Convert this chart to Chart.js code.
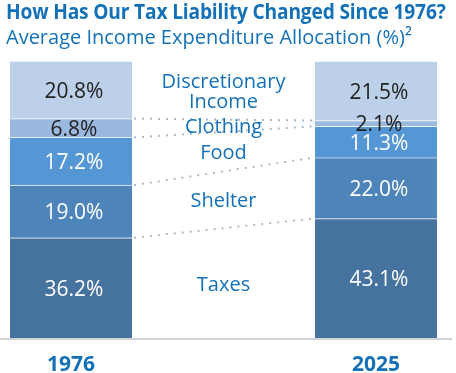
<!DOCTYPE html>
<html>
<head>
<meta charset="utf-8">
<script src="https://cdn.jsdelivr.net/npm/chart.js@4.4.0/dist/chart.umd.min.js"></script>
<style>
  body { margin: 0; background: #fff; }
  #wrap { position: relative; width: 456px; height: 373px; overflow: hidden; }
  .t1 { position: absolute; left: 6px; top: -1px; white-space: nowrap; transform-origin: 0 0;
        font: bold 22px/22px 'Open Sans', sans-serif; color: #1471b8; letter-spacing: -0.2px; }
  .t2 { position: absolute; left: 6px; top: 27px; white-space: nowrap;
        font: 20px/20px 'Open Sans', sans-serif; color: #1471b8; }
</style>
</head>
<body>
<div id="wrap">
  <canvas id="chart" width="456" height="373"></canvas>
  <div class="t1" id="t1">How Has Our Tax Liability Changed Since 1976?</div>
  <div class="t2">Average Income Expenditure Allocation (%)²</div>
</div>
<script>
const years = ['1976', '2025'];
const categories = [['Taxes'], ['Shelter'], ['Food'], ['Clothing'], ['Discretionary', 'Income']];
const taxes = [36.2, 43.1];
const shelter = [19.0, 22.0];
const food = [17.2, 11.3];
const clothing = [6.8, 2.1];
const discretionary = [20.8, 21.5];

const blue = '#1471b8';
const fills = ['#45729e', '#4d84ba', '#5596d4', '#9ab9df', '#bcd0ea'];
const valueColors = ['#fff', '#fff', '#fff', '#222', '#222'];

// squeeze the bold title to the width of the original condensed face
const t1 = document.getElementById('t1');
t1.style.transform = 'scaleX(' + (440 / t1.offsetWidth) + ')';

// dotted connectors between the tops of the lower four segments
const connectors = {
    id: 'connectors',
    afterDatasetsDraw(chart) {
        const ctx = chart.ctx;
        ctx.save();
        ctx.strokeStyle = '#a6b9cd';
        ctx.lineWidth = 2;
        ctx.setLineDash([2, 6]);
        for (let i = 0; i < 4; i++) {
            const bars = chart.getDatasetMeta(i).data;
            const a = bars[0], b = bars[1];
            ctx.beginPath();
            ctx.moveTo(a.x + a.width / 2 + 2, a.y);
            ctx.lineTo(b.x - b.width / 2 - 2, b.y);
            ctx.stroke();
        }
        ctx.restore();
    }
};

// base line, year labels, value labels in the bars, category names in the gap
const labels = {
    id: 'labels',
    afterDraw(chart) {
        const ctx = chart.ctx;
        const y0 = chart.scales.y.getPixelForValue(0);
        ctx.save();
        ctx.strokeStyle = '#d3d3d3';
        ctx.lineWidth = 2;
        ctx.beginPath();
        ctx.moveTo(0, y0 + 1);
        ctx.lineTo(452, y0 + 1);
        ctx.stroke();

        ctx.textAlign = 'center';
        ctx.textBaseline = 'middle';
        const base = chart.getDatasetMeta(0).data;
        ctx.font = 'bold 21px "Open Sans"';
        ctx.fillStyle = blue;
        chart.data.labels.forEach((yr, j) => {
            ctx.fillText(yr, base[j].x, y0 + 27);
        });

        chart.data.datasets.forEach((ds, i) => {
            const bars = chart.getDatasetMeta(i).data;
            ctx.font = '500 21px "Open Sans"';
            ctx.fillStyle = valueColors[i];
            bars.forEach((bar, j) => {
                const mid = (bar.y + bar.base) / 2;
                ctx.fillText(ds.data[j].toFixed(1) + '%', bar.x + 3, mid + 2);
            });
            const a = bars[0], b = bars[1];
            const cx = (a.x + a.width / 2 + b.x - b.width / 2) / 2;
            const cy = ((a.y + a.base) / 2 + (b.y + b.base) / 2) / 2;
            const lines = categories[i];
            ctx.font = '20px "Open Sans"';
            ctx.fillStyle = blue;
            lines.forEach((t, k) => {
                ctx.fillText(t, cx, cy + 2 + (k - (lines.length - 1) / 2) * 20);
            });
        });
        ctx.restore();
    }
};

const series = [taxes, shelter, food, clothing, discretionary];

new Chart(document.getElementById('chart'), {
    type: 'bar',
    data: {
        labels: years,
        datasets: series.map((d, i) => ({
            label: categories[i].join(' '),
            data: d,
            backgroundColor: fills[i],
            borderColor: 'rgba(255,255,255,0.25)',
            borderWidth: { top: 1 },
            borderSkipped: false,
            barThickness: 122,
            clip: false
        }))
    },
    options: {
        responsive: false,
        animation: false,
        layout: { padding: { left: 71, right: 80, top: 61, bottom: 35 } },
        plugins: { legend: { display: false }, tooltip: { enabled: false } },
        scales: {
            x: { stacked: true, offset: false, display: false },
            y: { stacked: true, display: false, min: 0, max: 100 }
        }
    },
    plugins: [connectors, labels]
});
</script>
</body>
</html>
